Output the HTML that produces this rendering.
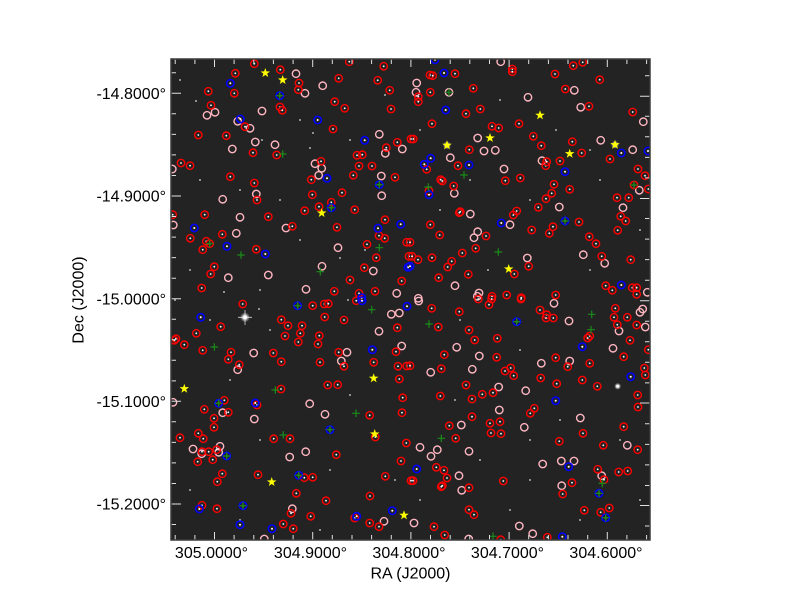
<!DOCTYPE html>
<html><head><meta charset="utf-8"><style>
html,body{margin:0;padding:0;background:#fff;}
svg{display:block;}
text{font-family:"Liberation Sans",Arial,sans-serif;fill:#000;}
</style></head><body>
<svg width="800" height="600" viewBox="0 0 800 600" xmlns="http://www.w3.org/2000/svg">
<defs>
<radialGradient id="glow"><stop offset="0" stop-color="#fff" stop-opacity="1"/><stop offset="0.5" stop-color="#fff" stop-opacity="0.6"/><stop offset="1" stop-color="#fff" stop-opacity="0"/></radialGradient>
<clipPath id="cp"><rect x="171" y="59" width="479" height="481"/></clipPath>
<g id="r"><circle r="3.7" fill="none" stroke="#ff0000" stroke-width="1.4"/><circle r="0.9" fill="#fff"/></g>
<g id="p"><circle r="3.7" fill="none" stroke="#ffb6c1" stroke-width="1.4"/></g>
<g id="b"><circle r="3.7" fill="none" stroke="#0000ff" stroke-width="1.6"/><circle r="1" fill="#fff"/></g>
<g id="g"><path d="M-3.8,0H3.8M0,-3.8V3.8" stroke="#1a8c1a" stroke-width="1.2"/></g>
<g id="y"><path d="M0,-5L1.18,-1.62L4.76,-1.55L1.9,0.62L2.94,4.05L0,2L-2.94,4.05L-1.9,0.62L-4.76,-1.55L-1.18,-1.62Z" fill="#ffff00"/></g>
<g id="w"><circle r="0.9" fill="#ddd"/></g>
</defs>
<rect x="171" y="59" width="479" height="481" fill="#232323"/>
<g clip-path="url(#cp)">
<use href="#w" x="180" y="80"/><use href="#w" x="196" y="101"/><use href="#w" x="262" y="140"/><use href="#w" x="300" y="120"/><use href="#w" x="310" y="148"/><use href="#w" x="350" y="140"/><use href="#w" x="200" y="180"/><use href="#w" x="240" y="190"/><use href="#w" x="280" y="200"/><use href="#w" x="300" y="240"/><use href="#w" x="190" y="270"/><use href="#w" x="260" y="290"/><use href="#w" x="340" y="258"/><use href="#w" x="420" y="130"/><use href="#w" x="470" y="180"/><use href="#w" x="500" y="100"/><use href="#w" x="530" y="200"/><use href="#w" x="600" y="180"/><use href="#w" x="640" y="230"/><use href="#w" x="590" y="270"/><use href="#w" x="440" y="210"/><use href="#w" x="488" y="270"/><use href="#w" x="230" y="380"/><use href="#w" x="260" y="440"/><use href="#w" x="330" y="470"/><use href="#w" x="350" y="395"/><use href="#w" x="190" y="490"/><use href="#w" x="240" y="520"/><use href="#w" x="320" y="530"/><use href="#w" x="460" y="320"/><use href="#w" x="520" y="350"/><use href="#w" x="480" y="460"/><use href="#w" x="530" y="480"/><use href="#w" x="560" y="420"/><use href="#w" x="620" y="440"/><use href="#w" x="640" y="500"/><use href="#w" x="580" y="520"/><use href="#w" x="420" y="500"/><use href="#w" x="510" y="510"/><use href="#w" x="455" y="400"/><use href="#w" x="224" y="292"/><use href="#w" x="313" y="133"/><use href="#w" x="365" y="250"/><use href="#w" x="385" y="95"/><use href="#w" x="556" y="130"/><use href="#w" x="259" y="309"/><use href="#w" x="210" y="320"/><use href="#w" x="270" y="330"/><use href="#w" x="348" y="300"/><use href="#w" x="590" y="150"/><use href="#w" x="530" y="440"/><use href="#w" x="395" y="480"/><use href="#w" x="175" y="300"/>
<circle cx="245" cy="317.3" r="5" fill="url(#glow)"/><circle cx="245" cy="317.3" r="2" fill="#fff"/><path d="M245,310V325M238,317.3H252" stroke="#fff" stroke-width="0.8" opacity="0.8"/>
<circle cx="617.7" cy="386.3" r="3.5" fill="url(#glow)"/><circle cx="617.7" cy="386.3" r="1.5" fill="#fff"/>
<circle cx="447" cy="145.3" r="4" fill="url(#glow)"/>
<circle cx="615" cy="144.7" r="4" fill="url(#glow)"/>
<use href="#p" x="296" y="73.7"/><use href="#p" x="322.7" y="85.7"/><use href="#p" x="305" y="93.3"/><use href="#p" x="207" y="115.3"/><use href="#p" x="215" y="112.3"/><use href="#p" x="262" y="111"/><use href="#p" x="237.7" y="121.3"/><use href="#p" x="250" y="128.3"/><use href="#p" x="379.3" y="134.3"/><use href="#p" x="255.3" y="142"/><use href="#p" x="275" y="144.7"/><use href="#p" x="232.3" y="149"/><use href="#p" x="385.3" y="153.3"/><use href="#p" x="402.3" y="149"/><use href="#p" x="172.3" y="169"/><use href="#p" x="315" y="163.7"/><use href="#p" x="321.7" y="168.3"/><use href="#p" x="318.7" y="175.3"/><use href="#p" x="381.3" y="176"/><use href="#p" x="222.7" y="199.3"/><use href="#p" x="256.3" y="194"/><use href="#p" x="381.7" y="195.7"/><use href="#p" x="240" y="217.3"/><use href="#p" x="173.3" y="225"/><use href="#p" x="286" y="228"/><use href="#p" x="236.3" y="233.3"/><use href="#p" x="338" y="247.7"/><use href="#p" x="228.3" y="277.7"/><use href="#p" x="268.3" y="275"/><use href="#p" x="322" y="266.3"/><use href="#p" x="373.3" y="271"/><use href="#p" x="306" y="289.3"/><use href="#p" x="396.7" y="293.3"/>
<use href="#p" x="500.7" y="61.7"/><use href="#p" x="416.7" y="83"/><use href="#p" x="416" y="92.3"/><use href="#p" x="449" y="92.3"/><use href="#p" x="574.3" y="90.3"/><use href="#p" x="528" y="97.3"/><use href="#p" x="580.7" y="107.3"/><use href="#p" x="643.3" y="121.7"/><use href="#p" x="477.7" y="138"/><use href="#p" x="600.7" y="140.3"/><use href="#p" x="484" y="151"/><use href="#p" x="495.3" y="150.3"/><use href="#p" x="632.7" y="149.7"/><use href="#p" x="450.3" y="157.7"/><use href="#p" x="504" y="169"/><use href="#p" x="542" y="160.7"/><use href="#p" x="454.3" y="193.3"/><use href="#p" x="639.3" y="190.3"/><use href="#p" x="623" y="207.7"/><use href="#p" x="559.3" y="207"/><use href="#p" x="470.3" y="214"/><use href="#p" x="510" y="224.7"/><use href="#p" x="477.7" y="231.7"/><use href="#p" x="474" y="237.7"/><use href="#p" x="583.3" y="254.7"/><use href="#p" x="604.7" y="263.3"/><use href="#p" x="527.3" y="258"/><use href="#p" x="455" y="285.7"/><use href="#p" x="479" y="293"/><use href="#p" x="477.3" y="296.3"/><use href="#p" x="647.3" y="292.3"/><use href="#p" x="418.3" y="298.3"/>
<use href="#p" x="391.3" y="314.3"/><use href="#p" x="399.3" y="313"/><use href="#p" x="379" y="331.3"/><use href="#p" x="401.7" y="346"/><use href="#p" x="253.7" y="353"/><use href="#p" x="237.7" y="369.7"/><use href="#p" x="347" y="352.3"/><use href="#p" x="341.3" y="361"/><use href="#p" x="173" y="402.3"/><use href="#p" x="222.7" y="412.7"/><use href="#p" x="309.7" y="403.7"/><use href="#p" x="325" y="414.3"/><use href="#p" x="254.3" y="419"/><use href="#p" x="193" y="449"/><use href="#p" x="201.7" y="453.7"/><use href="#p" x="220" y="446.3"/><use href="#p" x="218.7" y="452.3"/><use href="#p" x="289.7" y="457"/><use href="#p" x="305.7" y="451.7"/><use href="#p" x="292.3" y="508.7"/><use href="#p" x="384" y="521.3"/><use href="#p" x="264.3" y="539"/>
<use href="#p" x="418.7" y="301"/><use href="#p" x="554" y="303.3"/><use href="#p" x="569" y="321"/><use href="#p" x="619" y="331"/><use href="#p" x="640" y="312.3"/><use href="#p" x="642.7" y="309"/><use href="#p" x="645.3" y="327"/><use href="#p" x="456.7" y="347.3"/><use href="#p" x="613" y="348.3"/><use href="#p" x="479.3" y="356"/><use href="#p" x="541.3" y="363.3"/><use href="#p" x="569.7" y="361"/><use href="#p" x="430.7" y="372.3"/><use href="#p" x="472.3" y="369.3"/><use href="#p" x="498.7" y="387"/><use href="#p" x="525.7" y="390.7"/><use href="#p" x="499.3" y="410"/><use href="#p" x="461.3" y="425"/><use href="#p" x="524.3" y="427.3"/><use href="#p" x="580.3" y="418"/><use href="#p" x="627.3" y="445.3"/><use href="#p" x="420" y="447.3"/><use href="#p" x="437.3" y="449.7"/><use href="#p" x="431" y="456.3"/><use href="#p" x="469" y="451.3"/><use href="#p" x="542.7" y="464"/><use href="#p" x="561.3" y="461"/><use href="#p" x="574" y="461"/><use href="#p" x="459" y="475.7"/><use href="#p" x="461.7" y="490.3"/><use href="#p" x="601.7" y="475.7"/><use href="#p" x="561.7" y="485.7"/><use href="#p" x="414" y="523"/><use href="#p" x="519.3" y="526"/><use href="#p" x="532.7" y="533.7"/><use href="#p" x="468.7" y="539"/>
<use href="#r" x="254.3" y="63.7"/><use href="#r" x="349.3" y="61.7"/><use href="#r" x="383.7" y="66.3"/><use href="#r" x="280.3" y="69.7"/><use href="#r" x="235.3" y="73.3"/><use href="#r" x="338.7" y="78.3"/><use href="#r" x="377.7" y="80.3"/><use href="#r" x="299" y="83"/><use href="#r" x="208.3" y="91.3"/><use href="#r" x="234.3" y="93.3"/><use href="#r" x="298.3" y="89.7"/><use href="#r" x="389.7" y="90.3"/><use href="#r" x="334.7" y="101.7"/><use href="#r" x="211" y="105.3"/><use href="#r" x="280" y="107"/><use href="#r" x="282.3" y="110.3"/><use href="#r" x="344.7" y="108.3"/><use href="#r" x="391" y="109"/><use href="#r" x="245" y="126.7"/><use href="#r" x="333" y="129"/><use href="#r" x="198.3" y="135"/><use href="#r" x="226.3" y="135.7"/><use href="#r" x="397.3" y="142.3"/><use href="#r" x="411" y="139"/><use href="#r" x="253" y="152.7"/><use href="#r" x="276.7" y="155"/><use href="#r" x="357" y="155.3"/><use href="#r" x="362.3" y="154.7"/><use href="#r" x="386.3" y="147.7"/><use href="#r" x="181" y="163"/><use href="#r" x="190" y="165.7"/><use href="#r" x="321" y="161.3"/><use href="#r" x="359" y="166"/><use href="#r" x="372" y="166"/><use href="#r" x="230.3" y="176.7"/><use href="#r" x="311.3" y="179.7"/><use href="#r" x="353.3" y="175.3"/><use href="#r" x="395" y="177.3"/><use href="#r" x="254.3" y="183"/><use href="#r" x="257" y="200"/><use href="#r" x="312.3" y="194.7"/><use href="#r" x="342" y="192.7"/><use href="#r" x="331.3" y="202.3"/><use href="#r" x="319" y="206.7"/><use href="#r" x="304.7" y="210.7"/><use href="#r" x="354.7" y="209.7"/><use href="#r" x="204.7" y="214.7"/><use href="#r" x="268.3" y="216.7"/><use href="#r" x="292.3" y="226.3"/><use href="#r" x="337" y="227.3"/><use href="#r" x="385" y="219.7"/><use href="#r" x="190.3" y="238.3"/><use href="#r" x="222.3" y="234.3"/><use href="#r" x="206.3" y="241.3"/><use href="#r" x="209.7" y="243.7"/><use href="#r" x="202.7" y="249.7"/><use href="#r" x="256.3" y="249.3"/><use href="#r" x="379" y="235.7"/><use href="#r" x="384.7" y="238.3"/><use href="#r" x="367" y="244.3"/><use href="#r" x="406.7" y="242.3"/><use href="#r" x="376.3" y="257.7"/><use href="#r" x="409" y="256.3"/><use href="#r" x="214.3" y="266.7"/><use href="#r" x="210.7" y="274"/><use href="#r" x="364.3" y="267.7"/><use href="#r" x="350" y="280"/><use href="#r" x="401.7" y="281"/><use href="#r" x="201.7" y="288"/><use href="#r" x="334.3" y="291.3"/><use href="#r" x="359" y="293.3"/><use href="#r" x="375" y="291.3"/><use href="#r" x="172.7" y="214.7"/>
<use href="#r" x="573.3" y="65.7"/><use href="#r" x="582.7" y="62.3"/><use href="#r" x="430" y="75"/><use href="#r" x="432.7" y="75.7"/><use href="#r" x="455" y="73.7"/><use href="#r" x="512.3" y="69"/><use href="#r" x="512.3" y="71.7"/><use href="#r" x="555" y="74"/><use href="#r" x="599.7" y="79.7"/><use href="#r" x="418.3" y="96.7"/><use href="#r" x="418.3" y="101.7"/><use href="#r" x="430.3" y="92.3"/><use href="#r" x="473.3" y="88.3"/><use href="#r" x="565.3" y="89"/><use href="#r" x="466" y="113.7"/><use href="#r" x="480.3" y="109"/><use href="#r" x="589" y="106.3"/><use href="#r" x="632.7" y="112"/><use href="#r" x="432" y="123.7"/><use href="#r" x="492" y="126.3"/><use href="#r" x="498.7" y="128"/><use href="#r" x="519" y="123.7"/><use href="#r" x="413.3" y="139"/><use href="#r" x="533.3" y="136.3"/><use href="#r" x="541.3" y="145.7"/><use href="#r" x="572.3" y="141.7"/><use href="#r" x="469.3" y="149.7"/><use href="#r" x="581.7" y="153"/><use href="#r" x="426.7" y="169.3"/><use href="#r" x="458" y="165.7"/><use href="#r" x="545.7" y="165.7"/><use href="#r" x="546.7" y="161.7"/><use href="#r" x="560" y="161"/><use href="#r" x="610" y="159"/><use href="#r" x="638" y="169"/><use href="#r" x="645" y="175.7"/><use href="#r" x="440.7" y="179.7"/><use href="#r" x="442.3" y="181"/><use href="#r" x="505.3" y="180.7"/><use href="#r" x="520.3" y="178"/><use href="#r" x="429" y="191"/><use href="#r" x="453.7" y="186"/><use href="#r" x="554" y="184.3"/><use href="#r" x="569.7" y="189.3"/><use href="#r" x="551.7" y="193.3"/><use href="#r" x="546" y="198.7"/><use href="#r" x="634" y="185"/><use href="#r" x="648.3" y="189"/><use href="#r" x="617" y="197.7"/><use href="#r" x="628.7" y="197.7"/><use href="#r" x="538.3" y="207.3"/><use href="#r" x="460.3" y="211.7"/><use href="#r" x="459.3" y="212.7"/><use href="#r" x="516.7" y="211"/><use href="#r" x="513.3" y="215"/><use href="#r" x="620.7" y="216.3"/><use href="#r" x="625.7" y="221"/><use href="#r" x="579" y="222"/><use href="#r" x="430.3" y="224.7"/><use href="#r" x="439.7" y="235"/><use href="#r" x="486" y="236"/><use href="#r" x="531.7" y="230"/><use href="#r" x="553" y="226.7"/><use href="#r" x="549.3" y="233.3"/><use href="#r" x="617.7" y="230.3"/><use href="#r" x="589.3" y="236.7"/><use href="#r" x="596" y="243.7"/><use href="#r" x="410" y="242.3"/><use href="#r" x="462.3" y="253"/><use href="#r" x="475.7" y="248.3"/><use href="#r" x="601.7" y="256.3"/><use href="#r" x="630.7" y="259.7"/><use href="#r" x="412" y="256.3"/><use href="#r" x="418" y="259.7"/><use href="#r" x="432" y="257.7"/><use href="#r" x="451.7" y="261.3"/><use href="#r" x="447.7" y="267"/><use href="#r" x="528.7" y="266.3"/><use href="#r" x="514.3" y="274"/><use href="#r" x="468.3" y="274.3"/><use href="#r" x="438.7" y="277.7"/><use href="#r" x="492" y="296.3"/><use href="#r" x="506.7" y="295"/><use href="#r" x="521.3" y="297.7"/><use href="#r" x="555.7" y="295"/><use href="#r" x="605.7" y="285.7"/><use href="#r" x="612.3" y="290.3"/><use href="#r" x="632.3" y="287.7"/><use href="#r" x="636.7" y="287.7"/><use href="#r" x="636.7" y="294.3"/>
<use href="#r" x="242.7" y="304"/><use href="#r" x="312.7" y="305.7"/><use href="#r" x="324.3" y="304"/><use href="#r" x="328.3" y="303.7"/><use href="#r" x="356.3" y="300.7"/><use href="#r" x="220.7" y="326.7"/><use href="#r" x="281.3" y="319.7"/><use href="#r" x="288" y="325.7"/><use href="#r" x="302" y="325.7"/><use href="#r" x="300.3" y="333.3"/><use href="#r" x="285" y="336"/><use href="#r" x="298.3" y="342"/><use href="#r" x="324.7" y="317"/><use href="#r" x="344" y="320"/><use href="#r" x="319.3" y="335.7"/><use href="#r" x="318" y="344"/><use href="#r" x="397.3" y="327.7"/><use href="#r" x="196.3" y="333.3"/><use href="#r" x="176" y="338.7"/><use href="#r" x="174.3" y="340.3"/><use href="#r" x="184.3" y="344.7"/><use href="#r" x="202.7" y="350.3"/><use href="#r" x="231" y="352.3"/><use href="#r" x="228.3" y="359.3"/><use href="#r" x="273.3" y="353"/><use href="#r" x="281.3" y="361.7"/><use href="#r" x="239.3" y="364.7"/><use href="#r" x="338.7" y="352.3"/><use href="#r" x="344" y="366.3"/><use href="#r" x="320" y="362.3"/><use href="#r" x="396" y="351.7"/><use href="#r" x="373.7" y="362.3"/><use href="#r" x="398" y="366.3"/><use href="#r" x="406.7" y="366"/><use href="#r" x="399.3" y="379"/><use href="#r" x="281" y="389"/><use href="#r" x="327.7" y="385"/><use href="#r" x="337.7" y="384.7"/><use href="#r" x="402.7" y="397.7"/><use href="#r" x="224.3" y="400.3"/><use href="#r" x="257" y="405"/><use href="#r" x="204.3" y="409.3"/><use href="#r" x="228.3" y="412.3"/><use href="#r" x="369.7" y="415.3"/><use href="#r" x="402" y="412.7"/><use href="#r" x="214" y="418.3"/><use href="#r" x="214" y="427.3"/><use href="#r" x="198.3" y="433.3"/><use href="#r" x="203.3" y="438.7"/><use href="#r" x="180" y="437.7"/><use href="#r" x="273.7" y="438.7"/><use href="#r" x="290" y="438.7"/><use href="#r" x="375.3" y="437"/><use href="#r" x="406.3" y="443"/><use href="#r" x="202" y="451.7"/><use href="#r" x="208.7" y="451.7"/><use href="#r" x="216.7" y="449.7"/><use href="#r" x="197.7" y="461.7"/><use href="#r" x="212.7" y="459.7"/><use href="#r" x="336.3" y="454.7"/><use href="#r" x="401" y="461"/><use href="#r" x="222.3" y="473.7"/><use href="#r" x="258" y="474.7"/><use href="#r" x="217.3" y="481.7"/><use href="#r" x="304.3" y="477.7"/><use href="#r" x="312.7" y="477.3"/><use href="#r" x="385.3" y="476.3"/><use href="#r" x="411" y="480.7"/><use href="#r" x="296.3" y="493.3"/><use href="#r" x="326" y="500.7"/><use href="#r" x="370" y="496"/><use href="#r" x="202" y="505.3"/><use href="#r" x="217" y="508.7"/><use href="#r" x="291" y="513.3"/><use href="#r" x="310.7" y="516.3"/><use href="#r" x="354.7" y="518"/><use href="#r" x="369.7" y="523"/><use href="#r" x="379" y="526.7"/><use href="#r" x="283.3" y="524"/><use href="#r" x="293.3" y="528.7"/>
<use href="#r" x="431.7" y="308.3"/><use href="#r" x="459.3" y="311.7"/><use href="#r" x="478.3" y="299"/><use href="#r" x="489" y="304.7"/><use href="#r" x="491.7" y="299"/><use href="#r" x="521" y="299"/><use href="#r" x="438.3" y="327"/><use href="#r" x="540" y="310"/><use href="#r" x="546.7" y="314.7"/><use href="#r" x="546" y="318"/><use href="#r" x="553.3" y="318"/><use href="#r" x="615.3" y="308.3"/><use href="#r" x="614" y="317.3"/><use href="#r" x="627.3" y="317.3"/><use href="#r" x="617.3" y="324.7"/><use href="#r" x="636.7" y="325"/><use href="#r" x="589.7" y="336"/><use href="#r" x="587.7" y="338"/><use href="#r" x="469" y="330"/><use href="#r" x="474.7" y="340"/><use href="#r" x="497.3" y="338.3"/><use href="#r" x="630" y="340.3"/><use href="#r" x="648.3" y="349.7"/><use href="#r" x="444.3" y="354.7"/><use href="#r" x="496.7" y="357.3"/><use href="#r" x="555.7" y="357.7"/><use href="#r" x="567.7" y="366.7"/><use href="#r" x="589.7" y="363.3"/><use href="#r" x="623.7" y="356.7"/><use href="#r" x="644.3" y="368"/><use href="#r" x="645.3" y="375"/><use href="#r" x="410" y="365.7"/><use href="#r" x="441.3" y="368.7"/><use href="#r" x="505" y="371"/><use href="#r" x="510.7" y="368"/><use href="#r" x="513.7" y="375.7"/><use href="#r" x="540.7" y="378"/><use href="#r" x="556.7" y="383.7"/><use href="#r" x="582.3" y="380"/><use href="#r" x="597.3" y="386.3"/><use href="#r" x="466" y="385"/><use href="#r" x="440.3" y="396"/><use href="#r" x="472" y="399"/><use href="#r" x="482.3" y="394.3"/><use href="#r" x="493" y="392.7"/><use href="#r" x="637.7" y="395"/><use href="#r" x="638" y="407"/><use href="#r" x="534.3" y="408.3"/><use href="#r" x="530.3" y="413.3"/><use href="#r" x="472" y="416.7"/><use href="#r" x="449.3" y="425.7"/><use href="#r" x="490" y="423.3"/><use href="#r" x="500" y="421.7"/><use href="#r" x="491" y="433"/><use href="#r" x="501" y="433.7"/><use href="#r" x="583" y="433.3"/><use href="#r" x="623.7" y="426.7"/><use href="#r" x="455.7" y="438.3"/><use href="#r" x="559.3" y="441.3"/><use href="#r" x="603.3" y="445.3"/><use href="#r" x="637.7" y="449.7"/><use href="#r" x="436.3" y="467.3"/><use href="#r" x="444" y="470.3"/><use href="#r" x="447" y="478"/><use href="#r" x="413" y="480.7"/><use href="#r" x="442.3" y="485.7"/><use href="#r" x="441.3" y="486.7"/><use href="#r" x="469" y="487.7"/><use href="#r" x="503.3" y="481"/><use href="#r" x="597.7" y="469.3"/><use href="#r" x="604" y="479.7"/><use href="#r" x="618.7" y="472"/><use href="#r" x="627.7" y="471"/><use href="#r" x="572" y="482.7"/><use href="#r" x="562.7" y="494"/><use href="#r" x="469" y="509.7"/><use href="#r" x="474" y="514.7"/><use href="#r" x="584.3" y="510.3"/><use href="#r" x="600.7" y="512.3"/><use href="#r" x="609.3" y="508"/><use href="#r" x="434" y="526.7"/><use href="#r" x="444.7" y="535"/><use href="#r" x="547.3" y="537.3"/><use href="#r" x="500.7" y="539.7"/>
<use href="#b" x="230.3" y="83.3"/><use href="#b" x="279.7" y="95.7"/><use href="#b" x="240.3" y="119"/><use href="#b" x="317.7" y="120"/><use href="#b" x="364.7" y="140.3"/><use href="#b" x="327" y="178.3"/><use href="#b" x="379.3" y="184.7"/><use href="#b" x="331.3" y="207.7"/><use href="#b" x="194.3" y="228"/><use href="#b" x="400.7" y="224.3"/><use href="#b" x="378" y="228.3"/><use href="#b" x="227" y="246.3"/><use href="#b" x="265.3" y="254"/><use href="#b" x="408" y="267.3"/><use href="#b" x="361.7" y="297.7"/>
<use href="#b" x="435" y="59.7"/><use href="#b" x="444" y="73"/><use href="#b" x="445.7" y="110"/><use href="#b" x="621.3" y="153"/><use href="#b" x="648" y="151"/><use href="#b" x="430.7" y="158.3"/><use href="#b" x="424.3" y="164.3"/><use href="#b" x="469" y="165"/><use href="#b" x="565" y="171.7"/><use href="#b" x="429" y="194.7"/><use href="#b" x="501.3" y="223"/><use href="#b" x="565" y="221"/><use href="#b" x="410" y="266.3"/><use href="#b" x="621.3" y="285"/>
<use href="#b" x="297.7" y="305.7"/><use href="#b" x="362" y="300.7"/><use href="#b" x="407" y="306.3"/><use href="#b" x="200.7" y="317.3"/><use href="#b" x="372.3" y="349.7"/><use href="#b" x="218.7" y="403.3"/><use href="#b" x="255.3" y="403"/><use href="#b" x="330" y="429.7"/><use href="#b" x="226.7" y="456"/><use href="#b" x="298.7" y="475.3"/><use href="#b" x="199.3" y="509"/><use href="#b" x="243" y="505.7"/><use href="#b" x="356.7" y="516.3"/><use href="#b" x="392.3" y="510.7"/><use href="#b" x="240" y="524.7"/><use href="#b" x="272" y="528.7"/>
<use href="#b" x="516.7" y="321.7"/><use href="#b" x="582.3" y="346.7"/><use href="#b" x="630.7" y="376.7"/><use href="#b" x="555.7" y="400.7"/><use href="#b" x="568.7" y="466.7"/><use href="#b" x="416.7" y="469"/><use href="#b" x="599" y="493.3"/><use href="#b" x="605.7" y="517.7"/><use href="#b" x="562.3" y="536.7"/>
<use href="#g" x="279.7" y="95.7"/><use href="#g" x="379.3" y="184.7"/><use href="#g" x="331.3" y="207.7"/><use href="#g" x="565" y="221"/><use href="#g" x="297.7" y="305.7"/><use href="#g" x="218.7" y="403.3"/><use href="#g" x="330" y="429.7"/><use href="#g" x="226.7" y="456"/><use href="#g" x="298.7" y="475.3"/><use href="#g" x="243" y="505.7"/><use href="#g" x="516.7" y="321.7"/><use href="#g" x="599" y="493.3"/><use href="#g" x="605.7" y="517.7"/>
<use href="#g" x="282.7" y="154"/><use href="#g" x="209.7" y="243.7"/><use href="#g" x="241" y="255"/><use href="#g" x="320.3" y="271.7"/><use href="#g" x="379.3" y="247.7"/><use href="#g" x="449" y="92.3"/><use href="#g" x="464" y="175"/><use href="#g" x="428.3" y="187"/><use href="#g" x="634" y="185"/><use href="#g" x="498.3" y="252"/><use href="#g" x="371.7" y="309.7"/><use href="#g" x="214.3" y="347"/><use href="#g" x="275.3" y="390"/><use href="#g" x="356" y="413.3"/><use href="#g" x="283.3" y="435"/><use href="#g" x="429" y="324"/><use href="#g" x="591.7" y="314.3"/><use href="#g" x="591" y="329.7"/><use href="#g" x="441.3" y="438.3"/><use href="#g" x="602.3" y="483.3"/><use href="#g" x="493" y="536.3"/>
<use href="#y" x="265.3" y="73"/><use href="#y" x="282.7" y="80"/><use href="#y" x="321.7" y="213"/><use href="#y" x="540" y="115.3"/><use href="#y" x="447" y="145.3"/><use href="#y" x="490" y="138"/><use href="#y" x="615" y="144.7"/><use href="#y" x="569.7" y="153.7"/><use href="#y" x="508.7" y="269"/><use href="#y" x="184.3" y="388.7"/><use href="#y" x="373.7" y="378.3"/><use href="#y" x="374.7" y="434"/><use href="#y" x="271.7" y="482"/><use href="#y" x="404" y="515.3"/>
</g>
<g stroke="#e0e0e0" stroke-width="1" fill="none">
<path d="M175.2,59v5M194.9,59v5M234.1,59v5M253.8,59v5M273.4,59v5M293.1,59v5M332.3,59v5M352,59v5M371.6,59v5M391.3,59v5M430.5,59v5M450.2,59v5M469.8,59v5M489.5,59v5M528.7,59v5M548.4,59v5M568,59v5M587.7,59v5M626.9,59v5M646.6,59v5"/>
<path d="M214.5,59v8M312.7,59v8M410.9,59v8M509.1,59v8M607.3,59v8"/>
<path d="M175.2,540v-5M194.9,540v-5M234.1,540v-5M253.8,540v-5M273.4,540v-5M293.1,540v-5M332.3,540v-5M352,540v-5M371.6,540v-5M391.3,540v-5M430.5,540v-5M450.2,540v-5M469.8,540v-5M489.5,540v-5M528.7,540v-5M548.4,540v-5M568,540v-5M587.7,540v-5M626.9,540v-5M646.6,540v-5"/>
<path d="M214.5,540v-8M312.7,540v-8M410.9,540v-8M509.1,540v-8M607.3,540v-8"/>
<path d="M171,72.8h5M171,113.8h5M171,134.4h5M171,154.9h5M171,175.5h5M171,216.5h5M171,237.1h5M171,257.6h5M171,278.2h5M171,319.2h5M171,339.8h5M171,360.3h5M171,380.9h5M171,421.8h5M171,442.4h5M171,462.9h5M171,483.5h5M171,524.5h5"/>
<path d="M171,93.3h10M171,196h10M171,298.7h10M171,401.3h10M171,504h10"/>
<path d="M650,75.8h-5M650,116.3h-5M650,136.8h-5M650,157.4h-5M650,177.9h-5M650,218.5h-5M650,239.1h-5M650,259.6h-5M650,280.2h-5M650,321.2h-5M650,341.8h-5M650,362.3h-5M650,382.9h-5M650,423.8h-5M650,444.4h-5M650,464.9h-5M650,485.5h-5M650,526h-5"/>
<path d="M650,96.3h-10M650,198.5h-10M650,300.7h-10M650,403h-10M650,505.5h-10"/>
</g>
<rect x="171" y="59" width="479" height="481" fill="none" stroke="#3a3a3a" stroke-width="1.5"/>
<g font-size="16" text-anchor="end">
<text x="166" y="99">-14.8000°</text>
<text x="166" y="201.7">-14.9000°</text>
<text x="166" y="304.4">-15.0000°</text>
<text x="166" y="407">-15.1000°</text>
<text x="166" y="509.7">-15.2000°</text>
</g>
<g font-size="16" text-anchor="middle">
<text x="211.5" y="558">305.0000°</text>
<text x="310.5" y="558">304.9000°</text>
<text x="409" y="558">304.8000°</text>
<text x="507.5" y="558">304.7000°</text>
<text x="606" y="558">304.6000°</text>
<text x="410.5" y="578.5">RA (J2000)</text>
<text transform="translate(83.5,300) rotate(-90)">Dec (J2000)</text>
</g>
</svg>
</body></html>
